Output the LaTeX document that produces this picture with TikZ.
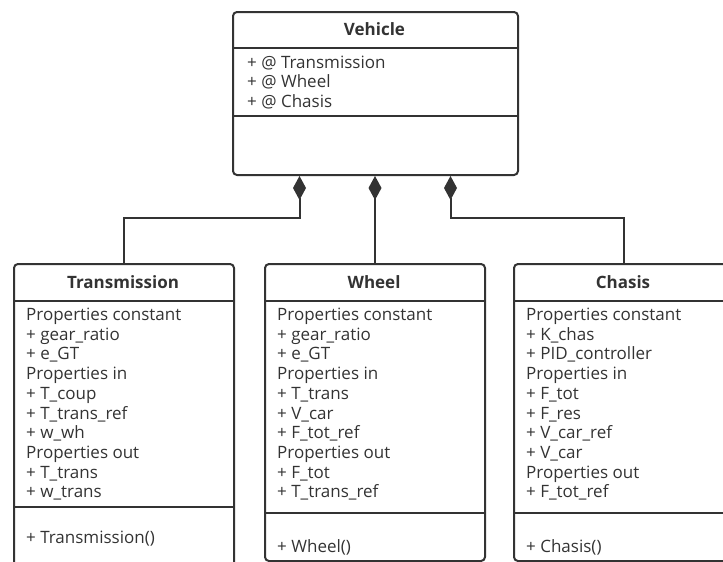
\documentclass[tikz,border=0pt]{standalone}
\usepackage{fontspec}
\setmainfont{Open Sans}
\usetikzlibrary{arrows.meta}

\definecolor{umlgray}{HTML}{333333}

\tikzset{
  umlbox/.style={draw=umlgray, line width=2pt, rounded corners=4pt,
    anchor=north west, inner sep=0pt},
  umlline/.style={draw=umlgray, line width=2pt},
  classname/.style={text=umlgray, inner sep=0pt,
    font=\bfseries\fontsize{17}{19}\selectfont},
  % base of a multi-line node = baseline of its last line
  members/.style={text=umlgray, anchor=base west, align=left, inner sep=0pt,
    font=\fontsize{17}{19.7}\selectfont},
  compose/.style={umlline, -{Diamond[length=24pt,width=13pt]}},
}

\begin{document}
\begin{tikzpicture}[x=1pt, y=-1pt]
  \clip (0,0) rectangle (723,562);

  % Vehicle
  \node[umlbox, minimum width=285pt, minimum height=163pt] (veh) at (232,11) {};
  \draw[umlline] (232,48) -- (517,48) (232,116) -- (517,116);
  \node[classname] (veh-name) at (374.5,29.5) {Vehicle};
  \node[members] (veh-attr) at (247,107.5) {+ @ Transmission\\+ @ Wheel\\+ @ Chasis};

  % Transmission
  \node[umlbox, minimum width=220pt, minimum height=320pt] (trans) at (13,263) {};
  \draw[umlline] (13,301) -- (233,301) (13,507) -- (233,507);
  \node[classname] (trans-name) at (123,282) {Transmission};
  \node[members] (trans-attr) at (26,497.8) {Properties constant\\+ gear\_ratio\\+ e\_GT\\
    Properties in\\+ T\_coup\\+ T\_trans\_ref\\+ w\_wh\\
    Properties out\\+ T\_trans\\+ w\_trans};
  \node[members] (trans-op) at (26,543) {+ Transmission()};

  % Wheel
  \node[umlbox, minimum width=220pt, minimum height=297pt] (wheel) at (264,263) {};
  \draw[umlline] (264,301) -- (484,301) (264,513) -- (484,513);
  \node[classname] (wheel-name) at (374,282) {Wheel};
  \node[members] (wheel-attr) at (277,497.8) {Properties constant\\+ gear\_ratio\\+ e\_GT\\
    Properties in\\+ T\_trans\\+ V\_car\\+ F\_tot\_ref\\
    Properties out\\+ F\_tot\\+ T\_trans\_ref};
  \node[members] (wheel-op) at (277,552) {+ Wheel()};

  % Chasis
  \node[umlbox, minimum width=220pt, minimum height=297pt] (chas) at (513,263) {};
  \draw[umlline] (513,301) -- (733,301) (513,513) -- (733,513);
  \node[classname] (chas-name) at (623,282) {Chasis};
  \node[members] (chas-attr) at (526,497.8) {Properties constant\\+ K\_chas\\+ PID\_controller\\
    Properties in\\+ F\_tot\\+ F\_res\\+ V\_car\_ref\\+ V\_car\\
    Properties out\\+ F\_tot\_ref};
  \node[members] (chas-op) at (526,552) {+ Chasis()};

  % compositions
  \draw[compose] (trans.north) -- ++(0,-45) -| ([xshift=-76pt]veh.south);
  \draw[compose] (wheel.north) -- (wheel.north |- veh.south);
  \draw[compose] (chas.north) -- ++(0,-45) -| ([xshift=75pt]veh.south);
\end{tikzpicture}
\end{document}
